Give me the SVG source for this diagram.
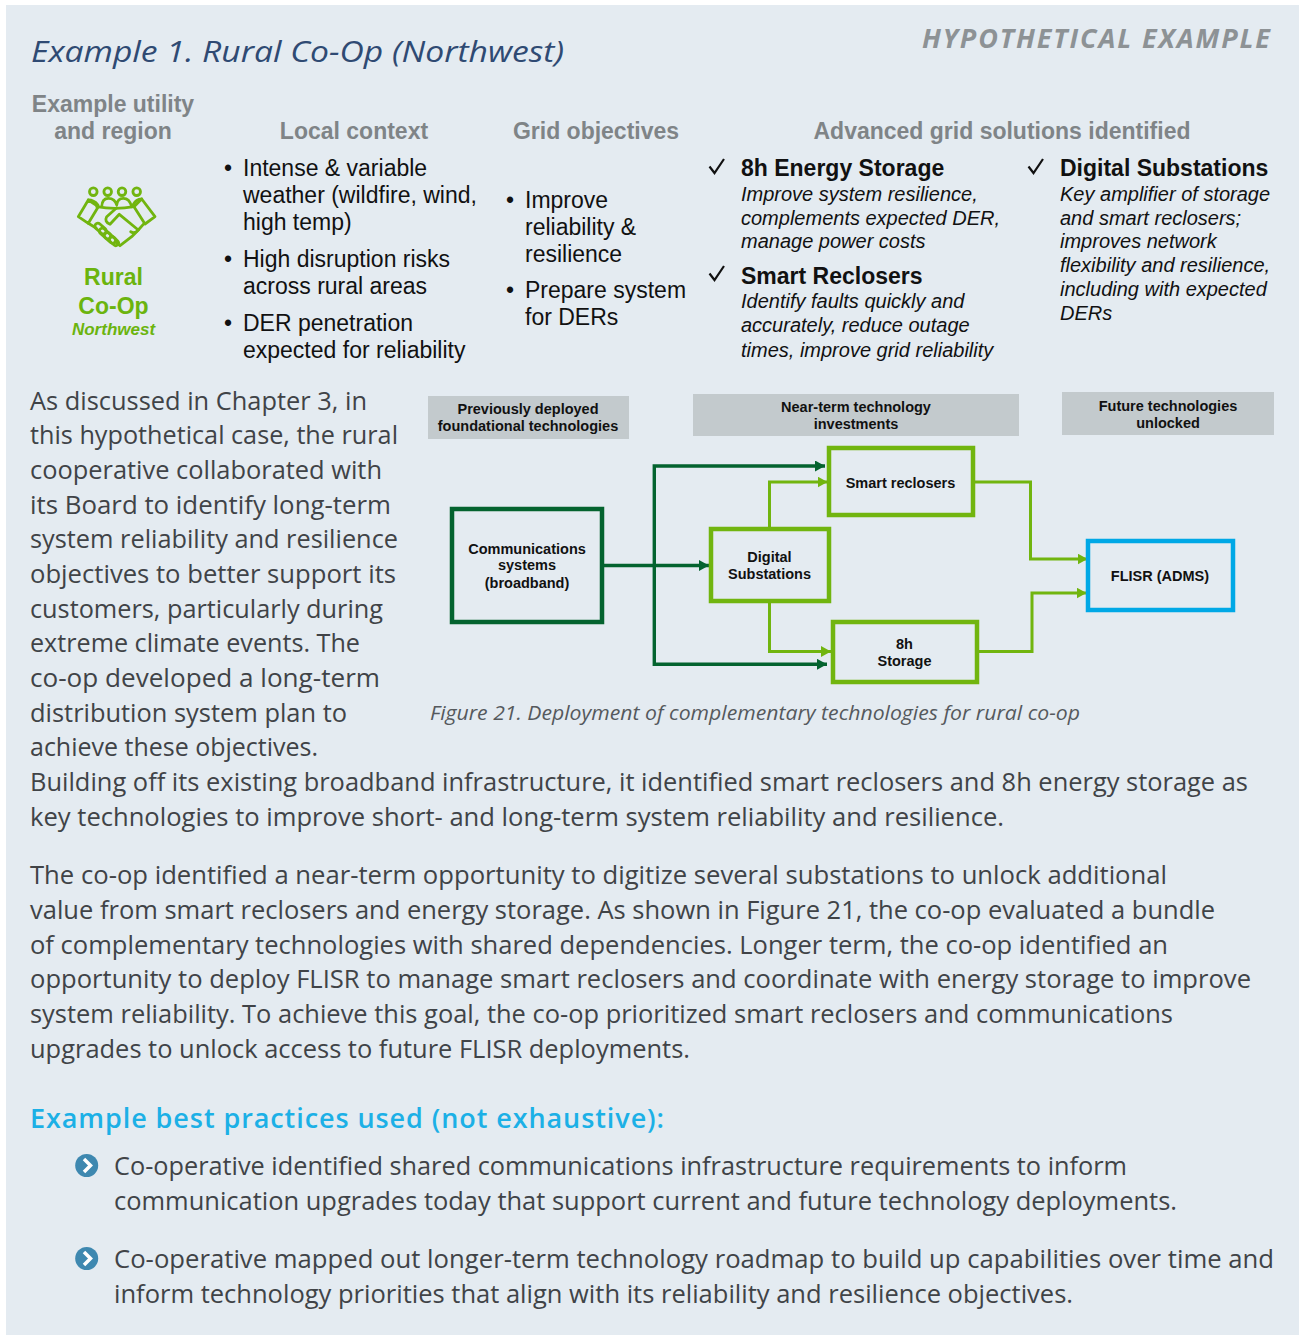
<svg xmlns="http://www.w3.org/2000/svg" width="1299" height="1335" viewBox="0 0 1299 1335">
<style>
text{white-space:pre}
.b{font-family:"Open Sans","Noto Sans",sans-serif;font-size:26px;fill:#404347}
.h{font-family:"Liberation Sans",Arial,sans-serif;font-size:23px;font-weight:700;fill:#7f8487;text-anchor:middle}
.l{font-family:"Liberation Sans",Arial,sans-serif;font-size:23px;fill:#111}
.lb{font-family:"Liberation Sans",Arial,sans-serif;font-size:23px;font-weight:700;fill:#111}
.i{font-family:"Liberation Sans",Arial,sans-serif;font-size:20px;font-style:italic;fill:#111}
.g{font-family:"Liberation Sans",Arial,sans-serif;font-weight:700;fill:#6bb40e;text-anchor:middle}
.n{font-family:"Liberation Sans",Arial,sans-serif;font-size:14.5px;font-weight:700;fill:#111;text-anchor:middle}
.band{fill:#c3cacd}
.box{fill:none;stroke-width:4.5}
.dk{stroke:#04632f}.lt{stroke:#71b50f}.bl{stroke:#00a8e6}
.cd{fill:none;stroke:#04632f;stroke-width:3.4}
.cl{fill:none;stroke:#71b50f;stroke-width:3}
</style>
<defs>
<marker id="ad" markerUnits="userSpaceOnUse" markerWidth="10" markerHeight="11" refX="10" refY="5.500" orient="auto"><path d="M0 0L10 5.500L0 11Z" fill="#04632f"/></marker>
<marker id="al" markerUnits="userSpaceOnUse" markerWidth="10" markerHeight="11" refX="10" refY="5.500" orient="auto"><path d="M0 0L10 5.500L0 11Z" fill="#71b50f"/></marker>
</defs>
<rect width="1299" height="1335" fill="#fff"/>
<rect x="6" y="5" width="1293" height="1330" fill="#e4ebf1"/>
<text x="31" y="62" font-family="'Open Sans','Noto Sans',sans-serif" font-size="30" font-style="italic" fill="#2f4a73" textLength="533" lengthAdjust="spacingAndGlyphs">Example 1. Rural Co-Op (Northwest)</text>
<text x="922" y="48" font-family="'Open Sans','Noto Sans',sans-serif" font-size="27" font-weight="700" font-style="italic" fill="#8d9295" textLength="348" lengthAdjust="spacing">HYPOTHETICAL EXAMPLE</text>
<g id="headers">
<text class="h" x="113" y="111.500">Example utility</text><text class="h" x="113" y="138.500">and region</text>
<text class="h" x="354" y="138.500">Local context</text>
<text class="h" x="596" y="138.500">Grid objectives</text>
<text class="h" x="1002" y="138.500">Advanced grid solutions identified</text>
</g>
<g id="utility">
<g fill="none" stroke="#71b50f" stroke-width="2.800" stroke-linejoin="round" stroke-linecap="round">
<circle cx="93.300" cy="191.700" r="3.800"/><circle cx="107.700" cy="191.700" r="3.800"/><circle cx="122" cy="191.700" r="3.800"/><circle cx="136.700" cy="191.700" r="3.800"/>
<path d="M88.300 200L78.300 216.700L88.300 223.300L98.300 206.700ZM141.700 199L155 216.700L145 224L134 206.700Z"/>
<path d="M101.700 206.700Q102 198.300 108.300 198.300Q115 198.300 116.700 205Q117.500 198.300 123.300 198.300Q129.500 198.300 131.700 206.700M88.300 200Q94 200 98 205M141.700 199Q136 199 133 205"/>
<path d="M96.700 206.700Q115 210 134 206.700"/>
<path d="M116.700 207.700L106.700 216.700Q104 221.700 110 224.300L119.300 214.300L138.300 230Q135 234.300 130.700 231.700"/>
<path d="M143.300 224.300L138.300 230L131.700 236.700L120 245.700L115 241.700M88.300 223.300L96 228"/>
<rect x="94" y="225.500" width="13" height="6" rx="3" transform="rotate(42 100.500 228.500)"/>
<rect x="98.500" y="230.500" width="13" height="6" rx="3" transform="rotate(42 105 233.500)"/>
<rect x="103.500" y="235" width="13" height="6" rx="3" transform="rotate(42 110 238)"/>
<rect x="109" y="238.500" width="10" height="5.500" rx="2.700" transform="rotate(42 114 241.200)"/>
</g>
<text class="g" x="113.500" y="285" font-size="23">Rural</text>
<text class="g" x="113.500" y="314" font-size="23">Co-Op</text>
<text class="g" x="113.500" y="335" font-size="17" font-style="italic">Northwest</text>
</g>
<g id="local-context">
<text class="l" x="224" y="176">•</text><text class="l" x="243" y="176">Intense &amp; variable</text>
<text class="l" x="243" y="203">weather (wildfire, wind,</text><text class="l" x="243" y="230">high temp)</text>
<text class="l" x="224" y="267">•</text><text class="l" x="243" y="267">High disruption risks</text><text class="l" x="243" y="294">across rural areas</text>
<text class="l" x="224" y="331">•</text><text class="l" x="243" y="331">DER penetration</text><text class="l" x="243" y="358">expected for reliability</text>
</g>
<g id="grid-objectives">
<text class="l" x="506" y="208">•</text><text class="l" x="525" y="208">Improve</text><text class="l" x="525" y="235">reliability &amp;</text><text class="l" x="525" y="262">resilience</text>
<text class="l" x="506" y="298">•</text><text class="l" x="525" y="298">Prepare system</text><text class="l" x="525" y="325">for DERs</text>
</g>
<g id="solutions">
<g fill="none" stroke="#111" stroke-width="2.200"><path d="M709.500 166.500l5 6.500l9.500 -14M709.500 273.500l5 6.500l9.500 -14M1028.500 166.500l5 6.500l9.500 -14"/></g>
<text class="lb" x="741" y="176">8h Energy Storage</text>
<text class="i" x="741" y="201">Improve system resilience,</text><text class="i" x="741" y="225">complements expected DER,</text><text class="i" x="741" y="248">manage power costs</text>
<text class="lb" x="741" y="284">Smart Reclosers</text>
<text class="i" x="741" y="308">Identify faults quickly and</text><text class="i" x="741" y="332">accurately, reduce outage</text><text class="i" x="741" y="357">times, improve grid reliability</text>
<text class="lb" x="1060" y="176">Digital Substations</text>
<text class="i" x="1060" y="201">Key amplifier of storage</text><text class="i" x="1060" y="225">and smart reclosers;</text><text class="i" x="1060" y="248">improves network</text><text class="i" x="1060" y="272">flexibility and resilience,</text><text class="i" x="1060" y="296">including with expected</text><text class="i" x="1060" y="320">DERs</text>
</g>
<g id="connectors">
<path class="cd" d="M603 565.500H709" marker-end="url(#ad)"/>
<path class="cd" d="M654.300 565.500V466H825" marker-end="url(#ad)"/>
<path class="cd" d="M654.300 565.500V664.300H827" marker-end="url(#ad)"/>
<path class="cl" d="M769.500 528V482H827.500" marker-end="url(#al)"/>
<path class="cl" d="M769.500 603V651.500H831" marker-end="url(#al)"/>
<path class="cl" d="M975 482H1030.500V559H1087.500" marker-end="url(#al)"/>
<path class="cl" d="M978 651.500H1032V593H1086.500" marker-end="url(#al)"/>
</g>
<g id="band-previous"><rect class="band" x="428" y="396" width="201" height="43"/><text class="n" x="528" y="414">Previously deployed</text><text class="n" x="528" y="431">foundational technologies</text></g>
<g id="band-near"><rect class="band" x="693" y="394" width="326" height="42"/><text class="n" x="856" y="412">Near-term technology</text><text class="n" x="856" y="429">investments</text></g>
<g id="band-future"><rect class="band" x="1062" y="392" width="212" height="43"/><text class="n" x="1168" y="411">Future technologies</text><text class="n" x="1168" y="428">unlocked</text></g>
<g id="node-comms"><rect class="box dk" x="452" y="509" width="150" height="113"/><text class="n" x="527" y="554">Communications</text><text class="n" x="527" y="570">systems</text><text class="n" x="527" y="588">(broadband)</text></g>
<g id="node-digital"><rect class="box lt" x="711" y="529" width="118" height="72"/><text class="n" x="769.500" y="562">Digital</text><text class="n" x="769.500" y="579">Substations</text></g>
<g id="node-reclosers"><rect class="box lt" x="829" y="448" width="144" height="67"/><text class="n" x="900.500" y="488">Smart reclosers</text></g>
<g id="node-storage"><rect class="box lt" x="833" y="622" width="144" height="60"/><text class="n" x="904.500" y="649">8h</text><text class="n" x="904.500" y="666">Storage</text></g>
<g id="node-flisr"><rect class="box bl" x="1088" y="541" width="145" height="69"/><text class="n" x="1160" y="581">FLISR (ADMS)</text></g>
<text x="430" y="720" font-family="'Open Sans','Noto Sans',sans-serif" font-size="20" font-style="italic" fill="#55595d" textLength="650" lengthAdjust="spacingAndGlyphs">Figure 21. Deployment of complementary technologies for rural co-op</text>
<g id="body">
<text class="b" x="30" y="410" textLength="337" lengthAdjust="spacingAndGlyphs">As discussed in Chapter 3, in</text>
<text class="b" x="30" y="444" textLength="368" lengthAdjust="spacingAndGlyphs">this hypothetical case, the rural</text>
<text class="b" x="30" y="479" textLength="352" lengthAdjust="spacingAndGlyphs">cooperative collaborated with</text>
<text class="b" x="30" y="514" textLength="361" lengthAdjust="spacingAndGlyphs">its Board to identify long-term</text>
<text class="b" x="30" y="548" textLength="368" lengthAdjust="spacingAndGlyphs">system reliability and resilience</text>
<text class="b" x="30" y="583" textLength="366" lengthAdjust="spacingAndGlyphs">objectives to better support its</text>
<text class="b" x="30" y="618" textLength="353" lengthAdjust="spacingAndGlyphs">customers, particularly during</text>
<text class="b" x="30" y="652" textLength="330" lengthAdjust="spacingAndGlyphs">extreme climate events. The</text>
<text class="b" x="30" y="687" textLength="350" lengthAdjust="spacingAndGlyphs">co-op developed a long-term</text>
<text class="b" x="30" y="722" textLength="317" lengthAdjust="spacingAndGlyphs">distribution system plan to</text>
<text class="b" x="30" y="756" textLength="288" lengthAdjust="spacingAndGlyphs">achieve these objectives.</text>
<text class="b" x="30" y="791" textLength="1218" lengthAdjust="spacingAndGlyphs">Building off its existing broadband infrastructure, it identified smart reclosers and 8h energy storage as</text>
<text class="b" x="30" y="826" textLength="974" lengthAdjust="spacingAndGlyphs">key technologies to improve short- and long-term system reliability and resilience.</text>
<text class="b" x="30" y="884" textLength="1137" lengthAdjust="spacingAndGlyphs">The co-op identified a near-term opportunity to digitize several substations to unlock additional</text>
<text class="b" x="30" y="919" textLength="1185" lengthAdjust="spacingAndGlyphs">value from smart reclosers and energy storage. As shown in Figure 21, the co-op evaluated a bundle</text>
<text class="b" x="30" y="954" textLength="1138" lengthAdjust="spacingAndGlyphs">of complementary technologies with shared dependencies. Longer term, the co-op identified an</text>
<text class="b" x="30" y="988" textLength="1221" lengthAdjust="spacingAndGlyphs">opportunity to deploy FLISR to manage smart reclosers and coordinate with energy storage to improve</text>
<text class="b" x="30" y="1023" textLength="1143" lengthAdjust="spacingAndGlyphs">system reliability. To achieve this goal, the co-op prioritized smart reclosers and communications</text>
<text class="b" x="30" y="1058" textLength="660" lengthAdjust="spacingAndGlyphs">upgrades to unlock access to future FLISR deployments.</text>
</g>
<text x="30" y="1128" font-family="'Open Sans','Noto Sans',sans-serif" font-size="27" font-weight="600" fill="#1cb0e6" textLength="634" lengthAdjust="spacing">Example best practices used (not exhaustive):</text>
<g id="practices">
<g id="bullet-1"><circle cx="86.700" cy="1165.500" r="11.500" fill="#3e88b0"/><path d="M84 1159l6.500 6.500l-6.500 6.500" fill="none" stroke="#fff" stroke-width="3.500"/></g>
<text class="b" x="114" y="1175" textLength="1013" lengthAdjust="spacingAndGlyphs">Co-operative identified shared communications infrastructure requirements to inform</text>
<text class="b" x="114" y="1210" textLength="1063" lengthAdjust="spacingAndGlyphs">communication upgrades today that support current and future technology deployments.</text>
<g id="bullet-2"><circle cx="86.700" cy="1258.500" r="11.500" fill="#3e88b0"/><path d="M84 1252l6.500 6.500l-6.500 6.500" fill="none" stroke="#fff" stroke-width="3.500"/></g>
<text class="b" x="114" y="1268" textLength="1160" lengthAdjust="spacingAndGlyphs">Co-operative mapped out longer-term technology roadmap to build up capabilities over time and</text>
<text class="b" x="114" y="1303" textLength="959" lengthAdjust="spacingAndGlyphs">inform technology priorities that align with its reliability and resilience objectives.</text>
</g>
</svg>
